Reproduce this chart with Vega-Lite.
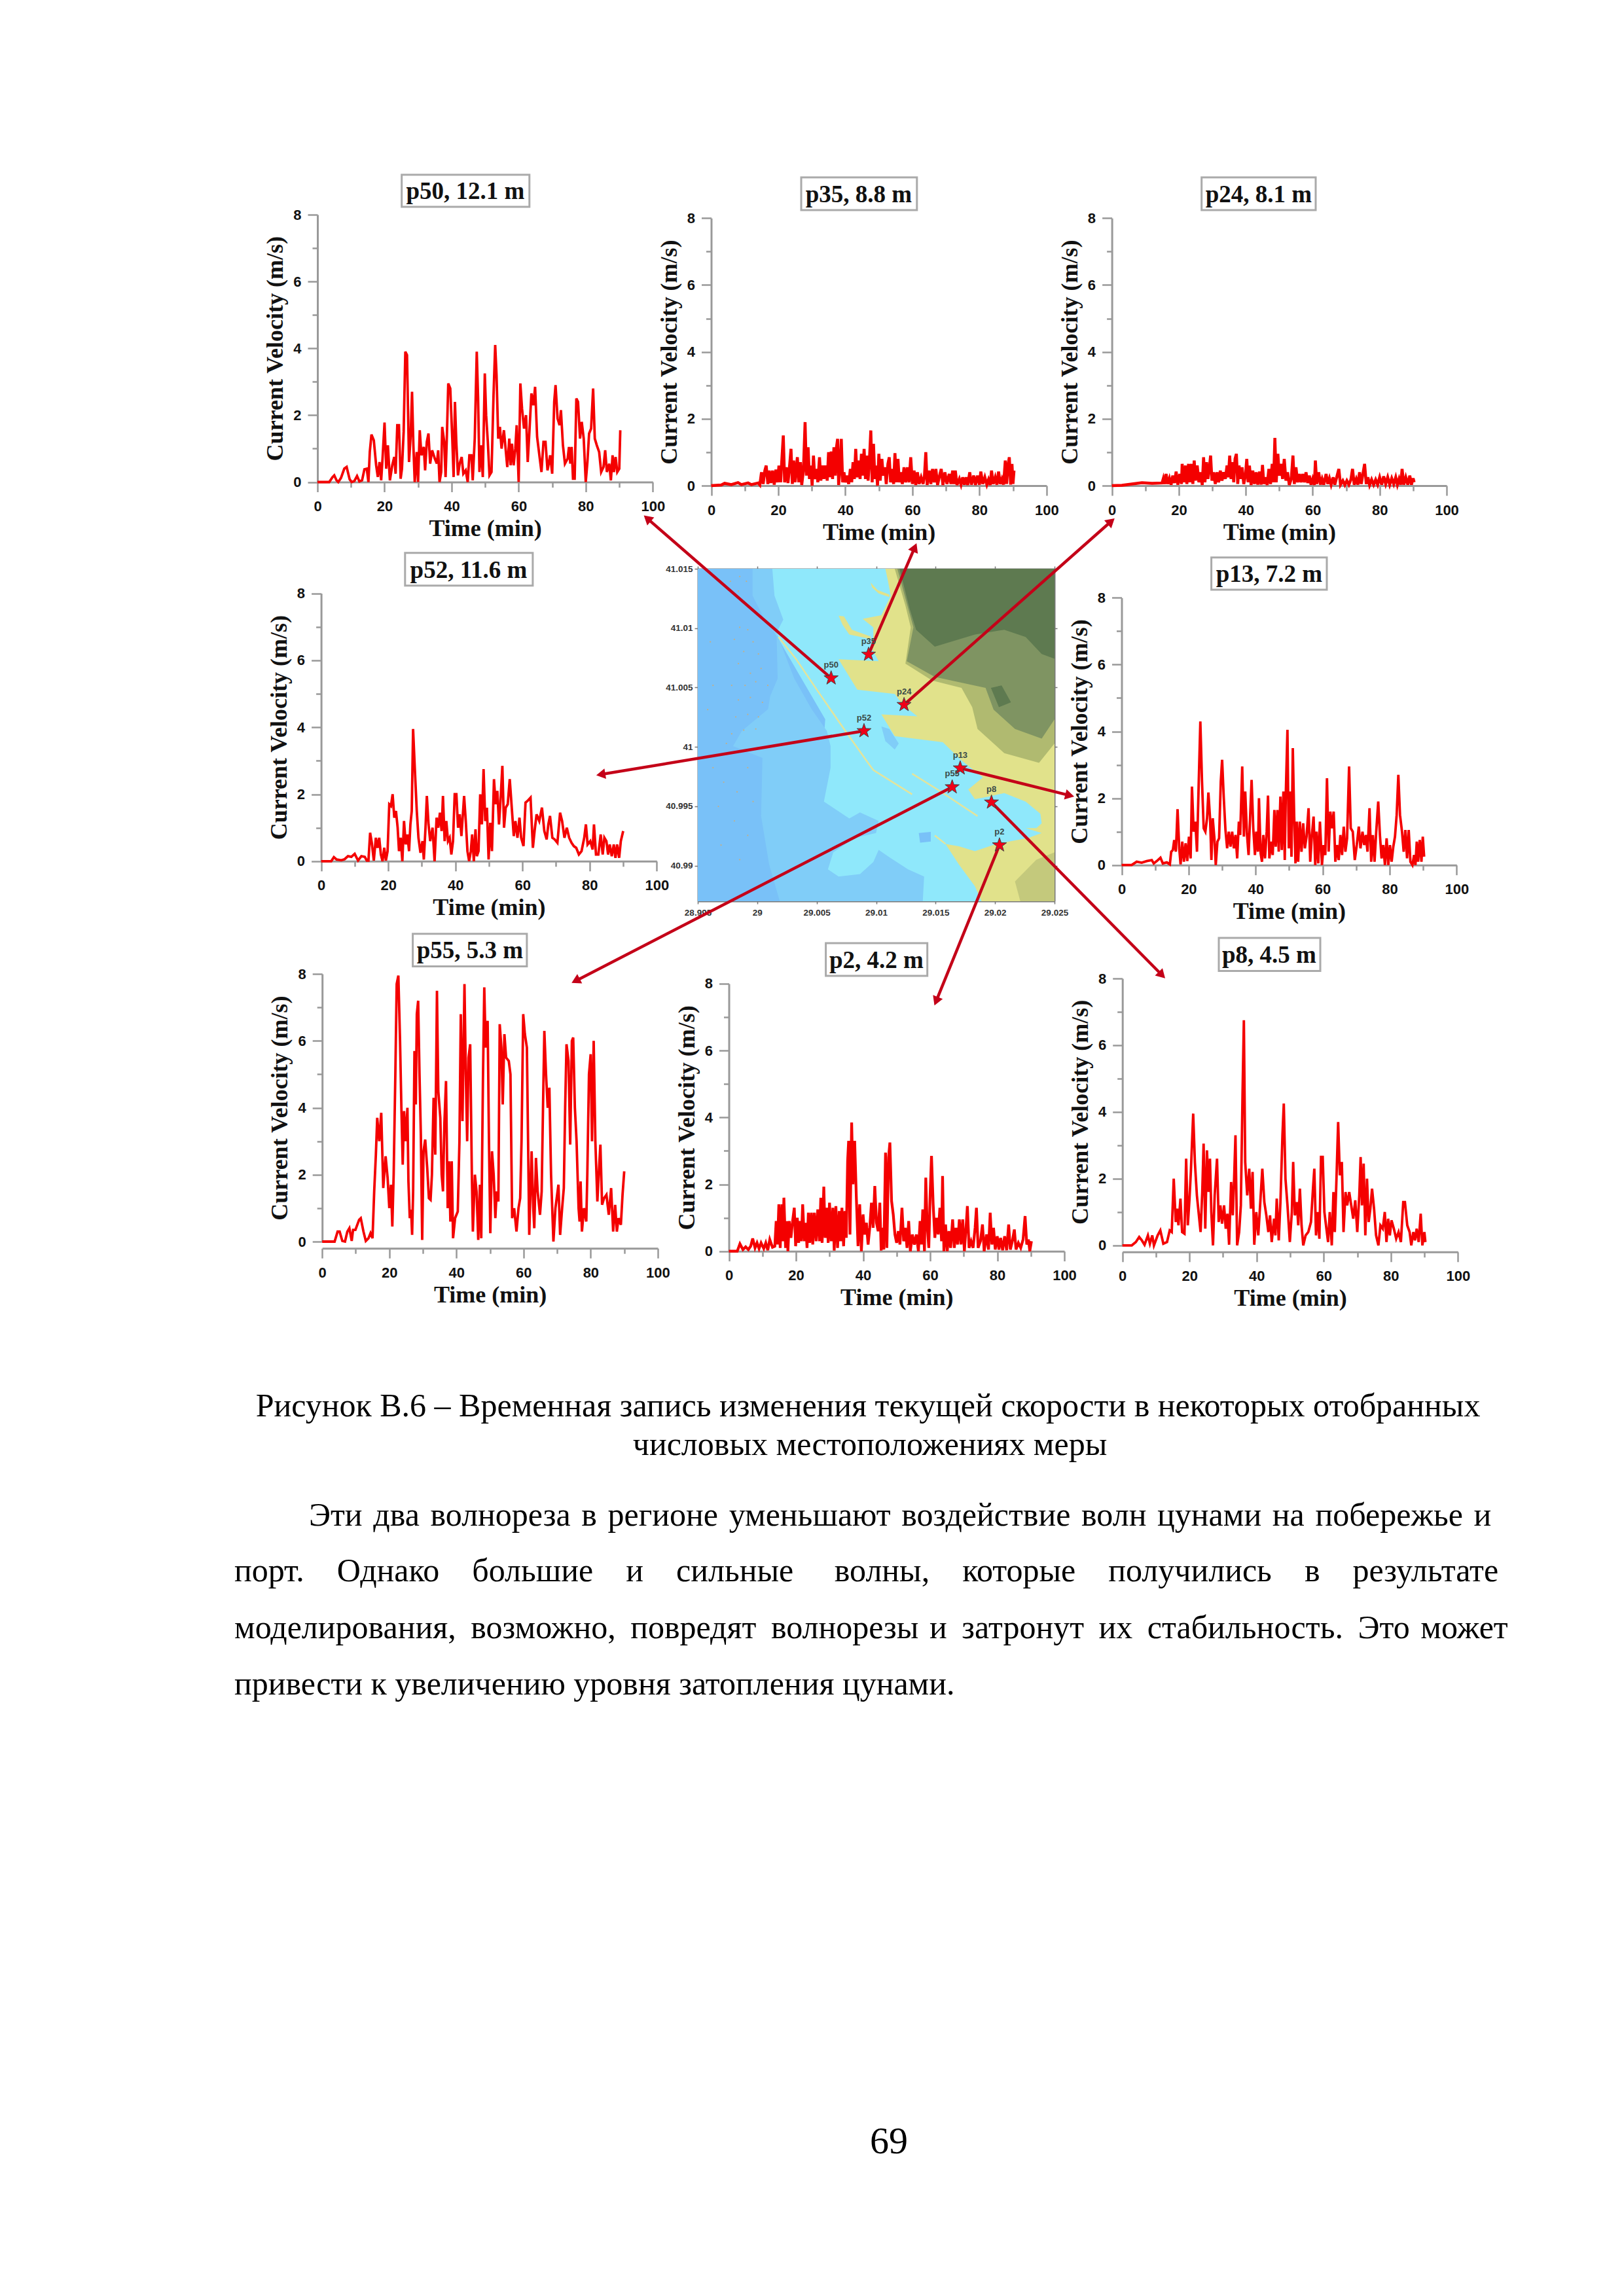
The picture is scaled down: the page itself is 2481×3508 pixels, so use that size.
{"$schema":"https://vega.github.io/schema/vega-lite/v6.json","width":2481,"height":3508,"padding":0,"autosize":{"type":"fit","contains":"padding"},"background":"white","data":{"values":[{"page":69}]},
"config":{"view":{"stroke":null},"axis":{"grid":false,"domainColor":"#999","tickColor":"#999","domainWidth":3,"tickWidth":2.5,"tickSize":15,"labelFont":"Liberation Sans","labelFontWeight":"bold","labelFontSize":22,"labelColor":"#111","labelPadding":10,"titleFont":"Liberation Serif","titleFontWeight":"bold","titleFontSize":36,"titleColor":"#111","labelFlush":false,"labelOverlap":false},"axisX":{"labelPadding":12,"titlePadding":6},"axisY":{"titlePadding":8}},
"resolve":{"scale":{"x":"independent","y":"independent"},"axis":{"x":"independent","y":"independent"}},
"datasets":{
"p50":[{"t":0,"v":0},{"t":3.5,"v":0},{"t":4.5,"v":0.15},{"t":5,"v":0.2},{"t":5.7,"v":0.05},{"t":6.2,"v":0},{"t":7,"v":0.12},{"t":8,"v":0.4},{"t":8.7,"v":0.45},{"t":9.6,"v":0.08},{"t":10.2,"v":0},{"t":11,"v":0.03},{"t":11.8,"v":0.18},{"t":12.5,"v":0.02},{"t":13.3,"v":0.05},{"t":14,"v":0.38},{"t":14.7,"v":0.4},{"t":15.2,"v":0},{"t":15.6,"v":0.9},{"t":16.1,"v":1.42},{"t":16.8,"v":1.25},{"t":17.5,"v":0.5},{"t":18,"v":0.15},{"t":18.5,"v":0.6},{"t":19,"v":0.05},{"t":19.4,"v":0.7},{"t":20,"v":1.78},{"t":20.5,"v":0.4},{"t":21,"v":1.1},{"t":21.6,"v":0.05},{"t":22.3,"v":0.5},{"t":22.9,"v":0.75},{"t":23.3,"v":0.25},{"t":23.8,"v":1.7},{"t":24.3,"v":1.7},{"t":24.8,"v":0.1},{"t":25.2,"v":0.4},{"t":25.7,"v":1.5},{"t":26.2,"v":3.9},{"t":26.7,"v":3.8},{"t":27.3,"v":0.6},{"t":27.8,"v":1.4},{"t":28.2,"v":2.7},{"t":28.6,"v":1.1},{"t":29,"v":0},{"t":29.6,"v":0.9},{"t":30,"v":0},{"t":30.5,"v":1.55},{"t":31,"v":0.8},{"t":31.7,"v":1.05},{"t":32.1,"v":0.35},{"t":32.6,"v":1.2},{"t":33.1,"v":1.45},{"t":33.6,"v":0.55},{"t":34.2,"v":0.95},{"t":35,"v":0.7},{"t":35.6,"v":0.55},{"t":36,"v":0.95},{"t":36.4,"v":0},{"t":36.9,"v":0.3},{"t":37.2,"v":1.65},{"t":37.8,"v":1.2},{"t":38.2,"v":0.15},{"t":38.6,"v":1.4},{"t":39,"v":2.95},{"t":39.6,"v":2.8},{"t":40.2,"v":1.3},{"t":40.6,"v":0.15},{"t":41,"v":2.4},{"t":41.4,"v":1.2},{"t":41.9,"v":0.2},{"t":42.4,"v":0.55},{"t":43,"v":0.75},{"t":43.5,"v":0.25},{"t":44.2,"v":0.35},{"t":44.8,"v":0},{"t":45.3,"v":0.8},{"t":45.9,"v":0.8},{"t":46.3,"v":0.05},{"t":46.9,"v":1.3},{"t":47.5,"v":3.9},{"t":47.9,"v":2.5},{"t":48.3,"v":0.3},{"t":48.8,"v":1.1},{"t":49.3,"v":0.15},{"t":49.9,"v":3.25},{"t":50.3,"v":2},{"t":50.8,"v":1.2},{"t":51.3,"v":0.2},{"t":51.9,"v":0.3},{"t":52.5,"v":2.6},{"t":53,"v":4.1},{"t":53.4,"v":3.2},{"t":53.9,"v":1.3},{"t":54.4,"v":1.65},{"t":54.9,"v":1},{"t":55.6,"v":1.55},{"t":56.1,"v":1},{"t":56.6,"v":0.45},{"t":57.2,"v":1.3},{"t":57.6,"v":0.5},{"t":58,"v":1.15},{"t":58.5,"v":0.5},{"t":59,"v":1},{"t":59.4,"v":1.7},{"t":60,"v":0},{"t":60.5,"v":2.95},{"t":61,"v":2.2},{"t":61.6,"v":1.6},{"t":62.2,"v":2},{"t":62.7,"v":0.6},{"t":63.2,"v":1.5},{"t":63.8,"v":2.65},{"t":64.4,"v":2.3},{"t":64.9,"v":2.85},{"t":65.5,"v":1.35},{"t":66.3,"v":0.7},{"t":66.8,"v":0.3},{"t":67.4,"v":1.2},{"t":68,"v":1.2},{"t":68.6,"v":0.35},{"t":69.4,"v":0.8},{"t":70,"v":0.25},{"t":70.6,"v":2.4},{"t":71,"v":2.9},{"t":71.6,"v":1.9},{"t":72.2,"v":1.7},{"t":72.6,"v":2.15},{"t":73.2,"v":1.1},{"t":73.8,"v":0.55},{"t":74.6,"v":0.7},{"t":75,"v":1.05},{"t":75.4,"v":0.55},{"t":75.8,"v":1.05},{"t":76.2,"v":0.1},{"t":76.7,"v":0.1},{"t":77.2,"v":2.5},{"t":77.7,"v":2.4},{"t":78.3,"v":1.3},{"t":78.8,"v":1.8},{"t":79.4,"v":1.3},{"t":80,"v":0},{"t":80.5,"v":0.6},{"t":81,"v":1.45},{"t":81.6,"v":1.6},{"t":82.2,"v":2.8},{"t":82.7,"v":1.3},{"t":83.3,"v":1.1},{"t":84,"v":0.9},{"t":84.6,"v":0.3},{"t":85.3,"v":0.45},{"t":85.8,"v":0.95},{"t":86.3,"v":0.3},{"t":87,"v":0.55},{"t":87.5,"v":0.05},{"t":88,"v":0.8},{"t":88.4,"v":0.3},{"t":88.9,"v":0.75},{"t":89.4,"v":0.3},{"t":90,"v":0.4},{"t":90.3,"v":1.55}],
"p35":[{"t":0,"v":0},{"t":3,"v":0.02},{"t":4,"v":0.07},{"t":6,"v":0.03},{"t":8,"v":0.09},{"t":9,"v":0.03},{"t":11,"v":0.08},{"t":12,"v":0.03},{"t":14,"v":0.08},{"t":14.5,"v":0.02},{"t":15,"v":0.4},{"t":15.5,"v":0.05},{"t":16,"v":0.45},{"t":16.4,"v":0.6},{"t":16.9,"v":0.05},{"t":17.3,"v":0.45},{"t":17.8,"v":0.08},{"t":18.3,"v":0.45},{"t":18.8,"v":0.03},{"t":19.3,"v":0.48},{"t":19.8,"v":0.1},{"t":20.2,"v":0.6},{"t":20.7,"v":0.1},{"t":21,"v":0.65},{"t":21.5,"v":1.5},{"t":21.9,"v":0.1},{"t":22.4,"v":0.55},{"t":22.9,"v":0.08},{"t":23.3,"v":0.5},{"t":23.8,"v":1.1},{"t":24.2,"v":0.05},{"t":24.6,"v":0.75},{"t":25,"v":0.1},{"t":25.4,"v":0.55},{"t":25.7,"v":0.85},{"t":26.1,"v":0.1},{"t":26.6,"v":0.7},{"t":27,"v":0.02},{"t":27.5,"v":0.45},{"t":28,"v":1.9},{"t":28.4,"v":0.3},{"t":28.9,"v":1.15},{"t":29.3,"v":0.2},{"t":29.7,"v":0.6},{"t":30.1,"v":0},{"t":30.5,"v":0.9},{"t":30.9,"v":0.2},{"t":31.4,"v":0.5},{"t":31.8,"v":0.1},{"t":32.3,"v":0.85},{"t":32.7,"v":0.15},{"t":33.2,"v":0.6},{"t":33.6,"v":0.2},{"t":34.1,"v":0.6},{"t":34.6,"v":0.15},{"t":35,"v":1},{"t":35.4,"v":0.25},{"t":35.8,"v":1.02},{"t":36.2,"v":0.2},{"t":36.6,"v":1.15},{"t":37,"v":0.3},{"t":37.3,"v":1.1},{"t":37.7,"v":1.4},{"t":38,"v":0.02},{"t":38.4,"v":0.5},{"t":38.8,"v":1.4},{"t":39.2,"v":0.1},{"t":39.6,"v":0.4},{"t":40,"v":0.1},{"t":40.5,"v":0.3},{"t":41,"v":0.05},{"t":41.5,"v":0.5},{"t":41.9,"v":0.1},{"t":42.3,"v":0.7},{"t":42.7,"v":0.2},{"t":43.1,"v":1.1},{"t":43.5,"v":0.25},{"t":44,"v":0.75},{"t":44.4,"v":0.2},{"t":44.8,"v":0.95},{"t":45.2,"v":0.3},{"t":45.6,"v":1.1},{"t":46,"v":0.2},{"t":46.4,"v":0.9},{"t":46.8,"v":0.15},{"t":47.2,"v":0.8},{"t":47.6,"v":1.65},{"t":48,"v":0.1},{"t":48.4,"v":1.25},{"t":48.8,"v":0.2},{"t":49.2,"v":0.6},{"t":49.6,"v":0},{"t":50,"v":0.95},{"t":50.4,"v":0.15},{"t":50.9,"v":0.8},{"t":51.3,"v":0.3},{"t":51.8,"v":0.55},{"t":52.2,"v":0.05},{"t":52.7,"v":0.65},{"t":53.1,"v":0.85},{"t":53.5,"v":0.1},{"t":54,"v":0.5},{"t":54.4,"v":0.05},{"t":54.8,"v":0.97},{"t":55.2,"v":0.1},{"t":55.7,"v":0.8},{"t":56.1,"v":0.1},{"t":56.6,"v":0.4},{"t":57,"v":0.05},{"t":57.5,"v":0.55},{"t":58,"v":0.1},{"t":58.5,"v":0.55},{"t":59,"v":0.1},{"t":59.5,"v":0.85},{"t":60,"v":0.05},{"t":60.5,"v":0.45},{"t":61,"v":0.02},{"t":61.5,"v":0.4},{"t":62,"v":0.05},{"t":62.6,"v":0.25},{"t":63.2,"v":0.05},{"t":63.6,"v":0.3},{"t":64,"v":1},{"t":64.4,"v":0.02},{"t":65,"v":0.45},{"t":65.5,"v":0.05},{"t":66,"v":0.5},{"t":66.5,"v":0.1},{"t":67,"v":0.5},{"t":67.5,"v":0.02},{"t":68.1,"v":0.3},{"t":68.6,"v":0.5},{"t":69.1,"v":0.02},{"t":69.7,"v":0.4},{"t":70.3,"v":0.05},{"t":71,"v":0.35},{"t":71.5,"v":0.05},{"t":72,"v":0.45},{"t":72.4,"v":0.05},{"t":72.8,"v":0.45},{"t":73.3,"v":0.02},{"t":74,"v":0.2},{"t":74.5,"v":0.03},{"t":75,"v":0.25},{"t":75.5,"v":0.03},{"t":76,"v":0.25},{"t":76.5,"v":0.02},{"t":77.1,"v":0.4},{"t":77.6,"v":0.03},{"t":78.3,"v":0.3},{"t":78.8,"v":0.02},{"t":79.4,"v":0.3},{"t":80,"v":0.03},{"t":80.4,"v":0.42},{"t":81,"v":0.05},{"t":81.6,"v":0.25},{"t":82.2,"v":0.03},{"t":82.7,"v":0.18},{"t":83.2,"v":0.02},{"t":83.6,"v":0.45},{"t":84.1,"v":0.05},{"t":84.7,"v":0.25},{"t":85.2,"v":0.03},{"t":85.7,"v":0.42},{"t":86.2,"v":0.05},{"t":86.7,"v":0.2},{"t":87.2,"v":0.03},{"t":87.7,"v":0.75},{"t":88.1,"v":0.05},{"t":88.5,"v":0.6},{"t":88.9,"v":0.85},{"t":89.3,"v":0.03},{"t":89.7,"v":0.65},{"t":90,"v":0.05},{"t":90.3,"v":0.45}],
"p24":[{"t":0,"v":0},{"t":3,"v":0.01},{"t":6,"v":0.05},{"t":9,"v":0.09},{"t":12,"v":0.07},{"t":15,"v":0.08},{"t":15.4,"v":0.22},{"t":15.8,"v":0.05},{"t":16.2,"v":0.35},{"t":16.7,"v":0.05},{"t":17.2,"v":0.22},{"t":17.7,"v":0.03},{"t":18.2,"v":0.3},{"t":18.7,"v":0.08},{"t":19.2,"v":0.42},{"t":19.7,"v":0.03},{"t":20.3,"v":0.35},{"t":20.8,"v":0.05},{"t":21,"v":0.65},{"t":21.5,"v":0.1},{"t":22,"v":0.6},{"t":22.4,"v":0.05},{"t":22.9,"v":0.65},{"t":23.3,"v":0.1},{"t":23.8,"v":0.65},{"t":24.2,"v":0.05},{"t":24.6,"v":0.75},{"t":25,"v":0.15},{"t":25.5,"v":0.6},{"t":26,"v":0.1},{"t":26.5,"v":0.4},{"t":27,"v":0.02},{"t":27.4,"v":0.85},{"t":27.8,"v":0.1},{"t":28.3,"v":0.7},{"t":28.7,"v":0.2},{"t":29.1,"v":0.5},{"t":29.5,"v":0.9},{"t":29.9,"v":0.15},{"t":30.4,"v":0.4},{"t":30.9,"v":0.05},{"t":31.4,"v":0.4},{"t":31.9,"v":0.1},{"t":32.4,"v":0.45},{"t":32.9,"v":0.15},{"t":33.4,"v":0.4},{"t":33.9,"v":0.2},{"t":34.4,"v":0.6},{"t":34.8,"v":0.25},{"t":35.2,"v":0.9},{"t":35.6,"v":0.2},{"t":36,"v":0.7},{"t":36.4,"v":0.1},{"t":36.8,"v":0.8},{"t":37.2,"v":0.95},{"t":37.6,"v":0.05},{"t":38,"v":0.6},{"t":38.4,"v":0.2},{"t":38.9,"v":0.55},{"t":39.4,"v":0.05},{"t":39.9,"v":0.3},{"t":40.3,"v":0.8},{"t":40.7,"v":0.1},{"t":41.1,"v":0.6},{"t":41.6,"v":0.02},{"t":42.1,"v":0.45},{"t":42.6,"v":0.05},{"t":43.1,"v":0.4},{"t":43.6,"v":0.03},{"t":44.1,"v":0.42},{"t":44.6,"v":0.03},{"t":45,"v":0.62},{"t":45.4,"v":0.05},{"t":45.9,"v":0.25},{"t":46.4,"v":0.02},{"t":46.9,"v":0.5},{"t":47.4,"v":0.05},{"t":47.9,"v":0.65},{"t":48.3,"v":0.1},{"t":48.7,"v":1.43},{"t":49.1,"v":0.1},{"t":49.6,"v":0.95},{"t":50,"v":0.3},{"t":50.5,"v":0.65},{"t":51,"v":0.2},{"t":51.5,"v":0.8},{"t":52,"v":0.15},{"t":52.5,"v":0.4},{"t":53,"v":0.02},{"t":53.6,"v":0.2},{"t":54.1,"v":0.9},{"t":54.5,"v":0.05},{"t":55,"v":0.55},{"t":55.5,"v":0.1},{"t":56,"v":0.35},{"t":56.5,"v":0.1},{"t":57,"v":0.35},{"t":57.5,"v":0.1},{"t":58,"v":0.4},{"t":58.5,"v":0.08},{"t":59,"v":0.3},{"t":59.5,"v":0.03},{"t":60,"v":0.2},{"t":60.5,"v":0.02},{"t":60.8,"v":0.75},{"t":61.2,"v":0.05},{"t":61.8,"v":0.4},{"t":62.3,"v":0.03},{"t":62.8,"v":0.2},{"t":63.3,"v":0.03},{"t":64,"v":0.35},{"t":64.5,"v":0.05},{"t":65,"v":0.22},{"t":65.5,"v":0.03},{"t":66.1,"v":0.25},{"t":66.6,"v":0.03},{"t":67.3,"v":0.3},{"t":67.8,"v":0.5},{"t":68.3,"v":0.03},{"t":69,"v":0.15},{"t":69.6,"v":0.02},{"t":70.2,"v":0.15},{"t":70.8,"v":0.03},{"t":71.4,"v":0.18},{"t":71.9,"v":0.5},{"t":72.4,"v":0.03},{"t":73,"v":0.2},{"t":73.5,"v":0.03},{"t":74,"v":0.4},{"t":74.5,"v":0.05},{"t":75,"v":0.35},{"t":75.5,"v":0.65},{"t":76,"v":0.05},{"t":76.5,"v":0.25},{"t":77,"v":0.02},{"t":77.6,"v":0.18},{"t":78.2,"v":0.03},{"t":78.8,"v":0.18},{"t":79.4,"v":0.03},{"t":80,"v":0.25},{"t":80.6,"v":0.03},{"t":81.2,"v":0.28},{"t":81.8,"v":0.05},{"t":82.4,"v":0.25},{"t":83,"v":0.03},{"t":83.6,"v":0.22},{"t":84.2,"v":0.05},{"t":84.8,"v":0.25},{"t":85.3,"v":0.03},{"t":85.8,"v":0.2},{"t":86.3,"v":0.03},{"t":86.7,"v":0.5},{"t":87.2,"v":0.03},{"t":87.8,"v":0.25},{"t":88.4,"v":0.03},{"t":89,"v":0.3},{"t":89.5,"v":0.03},{"t":90,"v":0.22},{"t":90.3,"v":0.1}],
"p52":[{"t":0,"v":0},{"t":3,"v":0},{"t":3.8,"v":0.12},{"t":4.6,"v":0.05},{"t":6,"v":0.03},{"t":7,"v":0.06},{"t":8,"v":0.15},{"t":9,"v":0.13},{"t":10,"v":0.22},{"t":11,"v":0.02},{"t":12,"v":0.15},{"t":13,"v":0.13},{"t":13.6,"v":0.02},{"t":14.1,"v":0.02},{"t":14.6,"v":0.85},{"t":15.1,"v":0.55},{"t":15.7,"v":0.02},{"t":16.3,"v":0.7},{"t":16.8,"v":0.4},{"t":17.3,"v":0.7},{"t":17.8,"v":0.2},{"t":18.3,"v":0},{"t":18.8,"v":0.4},{"t":19.3,"v":0.02},{"t":19.8,"v":0.3},{"t":20.3,"v":1.7},{"t":20.8,"v":1.65},{"t":21.3,"v":2},{"t":21.8,"v":1.3},{"t":22.3,"v":1.5},{"t":22.8,"v":1},{"t":23.2,"v":0.3},{"t":23.7,"v":0.7},{"t":24.2,"v":0},{"t":24.7,"v":1.2},{"t":25.2,"v":0.5},{"t":25.7,"v":0.8},{"t":26.2,"v":0.3},{"t":26.6,"v":1.1},{"t":27,"v":1.5},{"t":27.4,"v":3.95},{"t":27.9,"v":2.8},{"t":28.5,"v":1.5},{"t":29,"v":0.7},{"t":29.6,"v":0.25},{"t":30.2,"v":0.6},{"t":30.6,"v":0.05},{"t":31.1,"v":1},{"t":31.5,"v":1.95},{"t":32,"v":1.1},{"t":32.5,"v":0.6},{"t":33.2,"v":1},{"t":33.8,"v":0},{"t":34.4,"v":1.3},{"t":34.9,"v":1},{"t":35.4,"v":1.45},{"t":35.9,"v":0.9},{"t":36.3,"v":1.95},{"t":36.8,"v":0.6},{"t":37.3,"v":1.2},{"t":37.8,"v":0.6},{"t":38.3,"v":0.7},{"t":38.8,"v":0.2},{"t":39.3,"v":0.6},{"t":39.8,"v":2},{"t":40.3,"v":2},{"t":40.8,"v":1},{"t":41.3,"v":1.4},{"t":41.8,"v":0.75},{"t":42.6,"v":1.95},{"t":43.1,"v":1.2},{"t":43.6,"v":0.3},{"t":44.1,"v":0},{"t":44.6,"v":0.3},{"t":45,"v":0.8},{"t":45.5,"v":0},{"t":46,"v":0.95},{"t":46.4,"v":0.15},{"t":46.9,"v":0.3},{"t":47.4,"v":2},{"t":47.9,"v":1.1},{"t":48.4,"v":2.75},{"t":48.9,"v":1.2},{"t":49.4,"v":1.6},{"t":49.9,"v":0.05},{"t":50.4,"v":1.15},{"t":50.9,"v":0.3},{"t":51.5,"v":2.45},{"t":52,"v":1.7},{"t":52.5,"v":2.1},{"t":53,"v":1.1},{"t":53.5,"v":1.9},{"t":54,"v":2.85},{"t":54.5,"v":1},{"t":55,"v":1.6},{"t":55.6,"v":1.7},{"t":56.2,"v":2.45},{"t":56.8,"v":1.6},{"t":57.4,"v":0.75},{"t":57.9,"v":1.2},{"t":58.5,"v":0.7},{"t":59.1,"v":1.3},{"t":59.6,"v":0.7},{"t":60.3,"v":0.45},{"t":60.9,"v":1.75},{"t":61.5,"v":1.8},{"t":62.4,"v":1.9},{"t":63.1,"v":0.4},{"t":63.6,"v":0.9},{"t":64.2,"v":1.4},{"t":65,"v":1.2},{"t":65.8,"v":1.6},{"t":66.5,"v":0.9},{"t":67.2,"v":0.65},{"t":67.7,"v":1.1},{"t":68.2,"v":1.35},{"t":68.9,"v":0.7},{"t":69.6,"v":0.65},{"t":70.4,"v":0.55},{"t":71.2,"v":1.45},{"t":71.8,"v":1.2},{"t":72.5,"v":0.7},{"t":73.2,"v":1},{"t":73.9,"v":0.7},{"t":74.6,"v":0.55},{"t":75.3,"v":0.45},{"t":76,"v":0.4},{"t":76.8,"v":0.2},{"t":77.6,"v":0.3},{"t":78.4,"v":0.7},{"t":78.9,"v":1.1},{"t":79.4,"v":0.5},{"t":80.2,"v":0.6},{"t":80.9,"v":0.35},{"t":81.3,"v":1.1},{"t":81.9,"v":0.2},{"t":82.6,"v":0.2},{"t":83.3,"v":0.8},{"t":83.9,"v":0.2},{"t":84.4,"v":0.7},{"t":85,"v":0.6},{"t":85.5,"v":0.2},{"t":86,"v":0.5},{"t":86.6,"v":0.15},{"t":87.2,"v":0.5},{"t":87.7,"v":0.1},{"t":88.2,"v":0.5},{"t":88.8,"v":0.1},{"t":89.3,"v":0.6},{"t":90,"v":0.9}],
"p13":[{"t":0,"v":0},{"t":3,"v":0},{"t":4.5,"v":0.1},{"t":6,"v":0.07},{"t":7.5,"v":0.12},{"t":9,"v":0.15},{"t":9.6,"v":0.05},{"t":10.5,"v":0.12},{"t":11.6,"v":0.22},{"t":12.3,"v":0.05},{"t":13.5,"v":0.08},{"t":14.4,"v":0.02},{"t":14.8,"v":0.4},{"t":15.3,"v":0.45},{"t":15.7,"v":0.75},{"t":16.2,"v":0.4},{"t":16.7,"v":1.67},{"t":17.2,"v":0.5},{"t":17.6,"v":0.02},{"t":18.1,"v":0.7},{"t":18.6,"v":0.1},{"t":19.1,"v":0.65},{"t":19.6,"v":0.12},{"t":20.1,"v":0.85},{"t":20.6,"v":0.2},{"t":21,"v":2.35},{"t":21.5,"v":1},{"t":22,"v":1.3},{"t":22.5,"v":0.4},{"t":23,"v":2.4},{"t":23.5,"v":4.3},{"t":24,"v":2.5},{"t":24.5,"v":1.1},{"t":25,"v":1},{"t":25.5,"v":1.4},{"t":25.9,"v":2.17},{"t":26.4,"v":1.4},{"t":26.8,"v":0.15},{"t":27.2,"v":1.4},{"t":27.7,"v":0.8},{"t":28.1,"v":0},{"t":28.6,"v":0.7},{"t":29.1,"v":0.8},{"t":29.6,"v":2.5},{"t":30,"v":3.15},{"t":30.5,"v":2},{"t":31,"v":1.05},{"t":31.5,"v":0.5},{"t":32,"v":1},{"t":32.5,"v":0.55},{"t":33,"v":1},{"t":33.5,"v":0.5},{"t":34,"v":0.9},{"t":34.5,"v":0.2},{"t":35,"v":1.3},{"t":35.4,"v":0.9},{"t":36,"v":2.95},{"t":36.5,"v":0.85},{"t":36.9,"v":2.2},{"t":37.4,"v":0.95},{"t":37.9,"v":0.3},{"t":38.3,"v":1.3},{"t":38.8,"v":2.55},{"t":39.3,"v":1.1},{"t":39.8,"v":0.3},{"t":40.2,"v":1},{"t":40.7,"v":0.4},{"t":41,"v":2},{"t":41.5,"v":0.35},{"t":41.9,"v":0.1},{"t":42.3,"v":0.9},{"t":42.8,"v":0.2},{"t":43.3,"v":1},{"t":43.7,"v":2.08},{"t":44.1,"v":0.2},{"t":44.6,"v":0.7},{"t":45.1,"v":0.3},{"t":45.6,"v":1.65},{"t":46,"v":0.55},{"t":46.5,"v":1.65},{"t":46.9,"v":0.4},{"t":47.4,"v":2.05},{"t":47.8,"v":0.45},{"t":48.3,"v":2.2},{"t":48.7,"v":0.15},{"t":49,"v":2.1},{"t":49.5,"v":4.05},{"t":49.9,"v":0.5},{"t":50.3,"v":2.2},{"t":50.7,"v":0.25},{"t":51.1,"v":3.5},{"t":51.5,"v":1.5},{"t":51.9,"v":0.05},{"t":52.3,"v":1.3},{"t":52.7,"v":0.1},{"t":53.2,"v":1.3},{"t":53.7,"v":0.4},{"t":54.2,"v":1.25},{"t":54.7,"v":0.5},{"t":55.2,"v":0.85},{"t":55.8,"v":1.7},{"t":56.3,"v":0.1},{"t":56.8,"v":0.9},{"t":57.3,"v":1.45},{"t":57.8,"v":0},{"t":58.2,"v":1},{"t":58.7,"v":0.05},{"t":59.2,"v":1.3},{"t":59.8,"v":0},{"t":60.3,"v":0.6},{"t":60.8,"v":0.3},{"t":61.3,"v":2.6},{"t":61.8,"v":0.4},{"t":62.3,"v":1.6},{"t":62.8,"v":1.1},{"t":63.3,"v":1.6},{"t":63.8,"v":0.1},{"t":64.3,"v":0.6},{"t":64.8,"v":0.15},{"t":65.3,"v":0.9},{"t":65.8,"v":0.3},{"t":66.3,"v":1.15},{"t":66.8,"v":0.4},{"t":67.3,"v":0.8},{"t":67.9,"v":2.95},{"t":68.4,"v":1.1},{"t":69,"v":1},{"t":69.6,"v":0.15},{"t":70.2,"v":0.6},{"t":70.8,"v":1.15},{"t":71.3,"v":0.5},{"t":71.9,"v":1},{"t":72.4,"v":0.6},{"t":72.9,"v":0.9},{"t":73.4,"v":0.4},{"t":74,"v":1.7},{"t":74.5,"v":0.1},{"t":75,"v":0.9},{"t":75.5,"v":0.1},{"t":76,"v":1},{"t":76.6,"v":1.9},{"t":77.1,"v":0.9},{"t":77.6,"v":0.2},{"t":78.1,"v":0.6},{"t":78.6,"v":0},{"t":79.1,"v":0.8},{"t":79.6,"v":0},{"t":80.1,"v":0.6},{"t":80.6,"v":0.1},{"t":81.1,"v":0.55},{"t":81.6,"v":0.85},{"t":82.1,"v":1.5},{"t":82.6,"v":2.7},{"t":83.1,"v":1.5},{"t":83.7,"v":1},{"t":84.2,"v":0.4},{"t":84.7,"v":1.05},{"t":85.2,"v":0.2},{"t":85.7,"v":1.05},{"t":86.2,"v":0.1},{"t":86.8,"v":0},{"t":87.3,"v":0.3},{"t":87.7,"v":0},{"t":88.1,"v":0.7},{"t":88.5,"v":0.1},{"t":89,"v":0.75},{"t":89.5,"v":0.1},{"t":89.9,"v":0.85},{"t":90.3,"v":0.25}],
"p55":[{"t":0,"v":0},{"t":3.7,"v":0},{"t":4.6,"v":0.3},{"t":5.2,"v":0.3},{"t":6,"v":0.02},{"t":6.8,"v":0},{"t":7.5,"v":0.3},{"t":8.1,"v":0.4},{"t":8.8,"v":0.02},{"t":9.2,"v":0.35},{"t":9.9,"v":0.35},{"t":11,"v":0.65},{"t":11.5,"v":0.7},{"t":12.3,"v":0.3},{"t":13,"v":0.02},{"t":13.8,"v":0.1},{"t":14.4,"v":0.25},{"t":15,"v":0.1},{"t":15.5,"v":1.5},{"t":16,"v":2.6},{"t":16.4,"v":3.7},{"t":17,"v":3},{"t":17.6,"v":3.85},{"t":18.2,"v":1.6},{"t":18.9,"v":2.55},{"t":19.5,"v":1.9},{"t":20,"v":1},{"t":20.5,"v":1.7},{"t":20.9,"v":0.45},{"t":21.3,"v":2},{"t":21.8,"v":5},{"t":22.2,"v":7.7},{"t":22.7,"v":7.95},{"t":23.2,"v":6},{"t":23.6,"v":4},{"t":24,"v":2.3},{"t":24.4,"v":3.9},{"t":24.9,"v":3},{"t":25.4,"v":4},{"t":25.7,"v":1.8},{"t":26.1,"v":0.7},{"t":26.5,"v":0.95},{"t":26.8,"v":0.2},{"t":27.1,"v":1.5},{"t":27.5,"v":5.7},{"t":27.9,"v":4.1},{"t":28.2,"v":6.8},{"t":28.6,"v":7.2},{"t":29,"v":5},{"t":29.4,"v":3.2},{"t":29.8,"v":0.05},{"t":30.2,"v":2.7},{"t":30.7,"v":3.05},{"t":31.3,"v":2.2},{"t":31.8,"v":1.3},{"t":32.3,"v":1.25},{"t":32.7,"v":2},{"t":33.2,"v":4.3},{"t":33.7,"v":2.6},{"t":34.2,"v":7.5},{"t":34.6,"v":4.5},{"t":35.2,"v":3.7},{"t":35.6,"v":2},{"t":36,"v":1.5},{"t":36.4,"v":3.5},{"t":36.9,"v":4.8},{"t":37.4,"v":1},{"t":37.8,"v":2.4},{"t":38.2,"v":0.6},{"t":38.6,"v":2.4},{"t":39,"v":0.1},{"t":39.6,"v":0.7},{"t":40.4,"v":0.9},{"t":40.9,"v":3},{"t":41.3,"v":6.8},{"t":41.8,"v":3.6},{"t":42.4,"v":7.7},{"t":42.8,"v":5},{"t":43.2,"v":3},{"t":43.6,"v":5.5},{"t":44.1,"v":5.9},{"t":44.6,"v":2},{"t":44.9,"v":0.3},{"t":45.5,"v":2},{"t":46,"v":1.5},{"t":46.5,"v":0.05},{"t":47,"v":1.7},{"t":47.4,"v":0.1},{"t":47.9,"v":4.8},{"t":48.3,"v":7.6},{"t":48.7,"v":5.8},{"t":49.3,"v":6.6},{"t":49.7,"v":3},{"t":50.1,"v":0.25},{"t":50.6,"v":2.7},{"t":51.1,"v":2},{"t":51.6,"v":0.7},{"t":52,"v":1.5},{"t":52.5,"v":1.2},{"t":52.9,"v":6.5},{"t":53.4,"v":5.8},{"t":53.8,"v":4.1},{"t":54.3,"v":6.2},{"t":54.8,"v":5.5},{"t":55.6,"v":5.4},{"t":56.1,"v":5},{"t":56.6,"v":0.7},{"t":57.2,"v":1},{"t":57.9,"v":0.3},{"t":58.5,"v":1},{"t":59,"v":1.3},{"t":59.4,"v":3},{"t":59.9,"v":6.8},{"t":60.4,"v":6.2},{"t":61,"v":5.8},{"t":61.7,"v":0.2},{"t":62.4,"v":2.7},{"t":62.9,"v":1},{"t":63.2,"v":0.4},{"t":63.7,"v":2.5},{"t":64.2,"v":1.5},{"t":64.9,"v":0.8},{"t":65.4,"v":1.5},{"t":65.8,"v":4},{"t":66.2,"v":6.3},{"t":66.7,"v":5},{"t":67.2,"v":4},{"t":67.7,"v":4.6},{"t":68.2,"v":2},{"t":68.9,"v":0},{"t":69.5,"v":1},{"t":70.4,"v":1.7},{"t":70.9,"v":0.2},{"t":71.5,"v":1},{"t":72,"v":1.6},{"t":72.4,"v":4},{"t":72.8,"v":5.9},{"t":73.4,"v":5.4},{"t":73.9,"v":2.9},{"t":74.4,"v":6},{"t":74.8,"v":6.1},{"t":75.3,"v":4},{"t":75.8,"v":3},{"t":76.4,"v":1},{"t":76.7,"v":0.6},{"t":77,"v":1.8},{"t":77.4,"v":0.3},{"t":78,"v":1},{"t":78.7,"v":0.6},{"t":79,"v":2},{"t":79.5,"v":5},{"t":80,"v":5.6},{"t":80.4,"v":3},{"t":80.9,"v":6},{"t":81.4,"v":3},{"t":82,"v":1.2},{"t":82.4,"v":2},{"t":82.9,"v":2.9},{"t":83.4,"v":1.1},{"t":84,"v":1.3},{"t":84.7,"v":1.4},{"t":85.4,"v":0.8},{"t":86.1,"v":1.6},{"t":86.7,"v":0.3},{"t":87.3,"v":1.1},{"t":87.8,"v":0.3},{"t":88.3,"v":0.7},{"t":89,"v":0.5},{"t":89.5,"v":1.4},{"t":90,"v":2.1}],
"p2":[{"t":0,"v":0},{"t":2.5,"v":0},{"t":3.3,"v":0.22},{"t":4.2,"v":0.05},{"t":5,"v":0.13},{"t":5.8,"v":0.05},{"t":6.5,"v":0.15},{"t":7.1,"v":0.38},{"t":7.8,"v":0.1},{"t":8.4,"v":0.25},{"t":9,"v":0.08},{"t":9.6,"v":0.25},{"t":10.4,"v":0.08},{"t":11,"v":0.25},{"t":11.6,"v":0.03},{"t":12.2,"v":0.35},{"t":13,"v":0.12},{"t":13.7,"v":0.15},{"t":14.1,"v":0.9},{"t":14.5,"v":0.2},{"t":14.9,"v":1.4},{"t":15.3,"v":0.1},{"t":15.8,"v":1.4},{"t":16.1,"v":0.3},{"t":16.4,"v":1.6},{"t":16.9,"v":0.1},{"t":17.3,"v":0.9},{"t":17.6,"v":0},{"t":18,"v":0.9},{"t":18.5,"v":0.4},{"t":19,"v":0.9},{"t":19.5,"v":1.3},{"t":19.9,"v":0.15},{"t":20.4,"v":1},{"t":20.8,"v":0.25},{"t":21.2,"v":0.9},{"t":21.6,"v":0.3},{"t":22,"v":1.4},{"t":22.5,"v":0.3},{"t":22.9,"v":0.85},{"t":23.3,"v":0.1},{"t":23.7,"v":1.15},{"t":24.1,"v":0.25},{"t":24.6,"v":1.15},{"t":25,"v":0.2},{"t":25.5,"v":1.15},{"t":26,"v":0.3},{"t":26.5,"v":1.25},{"t":27,"v":0.3},{"t":27.4,"v":1.6},{"t":27.8,"v":0.25},{"t":28.3,"v":1.93},{"t":28.7,"v":0.4},{"t":29.2,"v":1.3},{"t":29.6,"v":0.25},{"t":30,"v":1.45},{"t":30.5,"v":0.3},{"t":31,"v":1.3},{"t":31.4,"v":0.02},{"t":31.9,"v":1.35},{"t":32.4,"v":0.1},{"t":32.9,"v":1.2},{"t":33.3,"v":0.3},{"t":33.7,"v":1.3},{"t":34.2,"v":0.15},{"t":34.6,"v":1.2},{"t":35,"v":0.4},{"t":35.4,"v":2.7},{"t":35.7,"v":3.3},{"t":36.1,"v":0.5},{"t":36.6,"v":3.85},{"t":37,"v":2},{"t":37.5,"v":3.3},{"t":38,"v":1.6},{"t":38.5,"v":0.15},{"t":39,"v":1.4},{"t":39.5,"v":0},{"t":40,"v":1.1},{"t":40.5,"v":0.5},{"t":41,"v":0.85},{"t":41.5,"v":0.2},{"t":42,"v":0.7},{"t":42.5,"v":1.45},{"t":43,"v":0.7},{"t":43.5,"v":1.95},{"t":44,"v":0.85},{"t":44.5,"v":0.6},{"t":45,"v":1.45},{"t":45.4,"v":0.02},{"t":45.8,"v":0.7},{"t":46.2,"v":0.05},{"t":46.7,"v":2.95},{"t":47.1,"v":0.1},{"t":47.6,"v":2.8},{"t":48,"v":3.25},{"t":48.5,"v":1.5},{"t":49,"v":1.1},{"t":49.5,"v":0.5},{"t":50,"v":0.25},{"t":50.5,"v":0.6},{"t":51,"v":0.2},{"t":51.6,"v":1.3},{"t":52.1,"v":0.3},{"t":52.6,"v":0.7},{"t":53.1,"v":0.1},{"t":53.6,"v":0.9},{"t":54.1,"v":0},{"t":54.7,"v":0.5},{"t":55.3,"v":0.2},{"t":55.9,"v":0.5},{"t":56.5,"v":0},{"t":57,"v":0.9},{"t":57.4,"v":0.2},{"t":57.8,"v":1.25},{"t":58.3,"v":0},{"t":58.7,"v":2.2},{"t":59.1,"v":0.8},{"t":59.6,"v":0.1},{"t":60,"v":1.7},{"t":60.4,"v":2.85},{"t":60.9,"v":1.4},{"t":61.4,"v":0.4},{"t":61.9,"v":1},{"t":62.4,"v":0.5},{"t":62.9,"v":1.3},{"t":63.4,"v":0.3},{"t":63.7,"v":2.25},{"t":64.1,"v":0},{"t":64.6,"v":0.8},{"t":65.1,"v":0},{"t":65.6,"v":0.6},{"t":66.1,"v":0.1},{"t":66.7,"v":0.95},{"t":67.2,"v":0.1},{"t":67.7,"v":0.7},{"t":68.2,"v":0.2},{"t":68.7,"v":0.95},{"t":69.2,"v":0.2},{"t":69.7,"v":0.95},{"t":70.2,"v":0},{"t":70.7,"v":0.7},{"t":71.1,"v":1.35},{"t":71.6,"v":0.1},{"t":72.2,"v":0.3},{"t":72.8,"v":0.1},{"t":73.4,"v":0.7},{"t":73.8,"v":1.3},{"t":74.3,"v":0.1},{"t":75,"v":0.3},{"t":75.6,"v":0.8},{"t":76.1,"v":0},{"t":76.8,"v":0.5},{"t":77.4,"v":0.05},{"t":77.9,"v":1.15},{"t":78.4,"v":0.2},{"t":78.9,"v":0.7},{"t":79.4,"v":0.05},{"t":80,"v":0.45},{"t":80.5,"v":0.05},{"t":81,"v":0.4},{"t":81.6,"v":0.03},{"t":82.2,"v":0.45},{"t":82.8,"v":0.03},{"t":83.4,"v":0.8},{"t":83.9,"v":0.05},{"t":84.5,"v":0.3},{"t":85.1,"v":0.65},{"t":85.6,"v":0.05},{"t":86.3,"v":0.25},{"t":87,"v":0.1},{"t":87.7,"v":0.35},{"t":88.3,"v":1.05},{"t":88.8,"v":0.2},{"t":89.3,"v":0.35},{"t":89.7,"v":0},{"t":90.2,"v":0.3}],
"p8":[{"t":0,"v":0},{"t":2.8,"v":0},{"t":4,"v":0.1},{"t":5,"v":0.25},{"t":5.8,"v":0.15},{"t":6.6,"v":0.02},{"t":7.6,"v":0.3},{"t":8.2,"v":0.05},{"t":8.9,"v":0.3},{"t":9.4,"v":0},{"t":10.5,"v":0.3},{"t":11.3,"v":0.45},{"t":12.2,"v":0.05},{"t":13.3,"v":0.1},{"t":14.1,"v":0.45},{"t":14.7,"v":0.4},{"t":15.3,"v":2},{"t":15.9,"v":0.7},{"t":16.3,"v":1.1},{"t":16.7,"v":0.6},{"t":17.3,"v":1.4},{"t":17.8,"v":0.4},{"t":18.5,"v":0.35},{"t":19,"v":2.6},{"t":19.5,"v":0.6},{"t":20,"v":1.4},{"t":20.4,"v":2.2},{"t":21.1,"v":3.95},{"t":21.6,"v":2.5},{"t":22.2,"v":1.5},{"t":22.6,"v":1.1},{"t":23.3,"v":0.4},{"t":23.8,"v":1.6},{"t":24.2,"v":3.05},{"t":24.7,"v":0.5},{"t":25.2,"v":2.85},{"t":25.7,"v":1.6},{"t":26.1,"v":2.6},{"t":26.5,"v":1},{"t":27,"v":0},{"t":27.5,"v":1.5},{"t":28.2,"v":2.6},{"t":28.7,"v":0.7},{"t":29.2,"v":1.2},{"t":29.7,"v":0.65},{"t":30.3,"v":1.2},{"t":30.8,"v":0.5},{"t":31.3,"v":0.95},{"t":31.8,"v":0.02},{"t":32.4,"v":1.9},{"t":32.9,"v":0.9},{"t":33.3,"v":2},{"t":33.7,"v":3.3},{"t":34.2,"v":0},{"t":34.8,"v":0.4},{"t":35.3,"v":1.2},{"t":35.8,"v":4.5},{"t":36.2,"v":6.75},{"t":36.6,"v":2.5},{"t":37.2,"v":1.5},{"t":37.8,"v":2.3},{"t":38.3,"v":1.1},{"t":38.8,"v":2.2},{"t":39.3,"v":0.02},{"t":39.9,"v":1},{"t":40.5,"v":0.3},{"t":41.1,"v":1.3},{"t":41.7,"v":2.3},{"t":42.3,"v":1.3},{"t":42.9,"v":0.9},{"t":43.5,"v":0.4},{"t":44,"v":0.9},{"t":44.5,"v":0.1},{"t":45.2,"v":0.8},{"t":45.6,"v":0.3},{"t":46,"v":1.4},{"t":46.6,"v":0.15},{"t":47.1,"v":1.3},{"t":47.7,"v":3.3},{"t":48.1,"v":4.25},{"t":48.6,"v":2},{"t":49.2,"v":1.2},{"t":49.9,"v":0.1},{"t":50.5,"v":1},{"t":50.9,"v":2.5},{"t":51.4,"v":0.9},{"t":52,"v":1.3},{"t":52.4,"v":0.6},{"t":52.9,"v":1.7},{"t":53.4,"v":0.6},{"t":53.9,"v":0},{"t":54.6,"v":0.3},{"t":55.4,"v":0.4},{"t":56.2,"v":0.7},{"t":56.8,"v":1.7},{"t":57.2,"v":2.3},{"t":57.7,"v":0.3},{"t":58.2,"v":1},{"t":58.7,"v":0.2},{"t":59.2,"v":2.65},{"t":59.7,"v":2.65},{"t":60.2,"v":1},{"t":60.8,"v":0.5},{"t":61.3,"v":0.1},{"t":61.8,"v":1},{"t":62.4,"v":0},{"t":62.9,"v":1.6},{"t":63.3,"v":0.4},{"t":63.8,"v":2},{"t":64.3,"v":3.7},{"t":64.8,"v":2.1},{"t":65.4,"v":2.5},{"t":65.9,"v":0.4},{"t":66.5,"v":1.6},{"t":67,"v":1.2},{"t":67.6,"v":1.6},{"t":68.2,"v":1.2},{"t":68.8,"v":0.8},{"t":69.4,"v":1.35},{"t":70,"v":0.4},{"t":70.6,"v":1.5},{"t":71,"v":2.65},{"t":71.4,"v":1.2},{"t":71.9,"v":2.45},{"t":72.4,"v":0.3},{"t":72.9,"v":2},{"t":73.4,"v":0.7},{"t":73.9,"v":1.1},{"t":74.4,"v":1.7},{"t":75,"v":1.1},{"t":75.6,"v":0.3},{"t":76.3,"v":0},{"t":76.9,"v":0.6},{"t":77.6,"v":0.5},{"t":78.2,"v":1},{"t":78.7,"v":0.1},{"t":79.2,"v":0.8},{"t":79.7,"v":0.3},{"t":80.2,"v":0.75},{"t":80.9,"v":0.5},{"t":81.6,"v":0.2},{"t":82.3,"v":0.4},{"t":83,"v":0.1},{"t":83.7,"v":1.3},{"t":84.2,"v":1.3},{"t":84.9,"v":0.6},{"t":85.6,"v":0.4},{"t":86.1,"v":0},{"t":86.7,"v":0.4},{"t":87.2,"v":0.15},{"t":87.7,"v":0.5},{"t":88.3,"v":0.1},{"t":88.9,"v":0.95},{"t":89.4,"v":0},{"t":90,"v":0.4},{"t":90.3,"v":0.1}],
"map":[{"r":"deep","gx":113,"gy":78},{"r":"deep","gx":1448,"gy":78},{"r":"deep","gx":1448,"gy":1452},{"r":"deep","gx":113,"gy":1452},
{"r":"cyan","gx":380,"gy":78},{"r":"cyan","gx":1448,"gy":78},{"r":"cyan","gx":1448,"gy":1452},{"r":"cyan","gx":950,"gy":1452},{"r":"cyan","gx":590,"gy":1370},{"r":"cyan","gx":570,"gy":1000},{"r":"cyan","gx":590,"gy":700},{"r":"cyan","gx":400,"gy":340},
{"r":"medium","gx":318,"gy":78},{"r":"medium","gx":392,"gy":78},{"r":"medium","gx":400,"gy":189},{"r":"medium","gx":433,"gy":288},{"r":"medium","gx":408,"gy":342},{"r":"medium","gx":474,"gy":532},{"r":"medium","gx":539,"gy":658},{"r":"medium","gx":596,"gy":748},{"r":"medium","gx":610,"gy":811},{"r":"medium","gx":610,"gy":900},{"r":"medium","gx":585,"gy":1040},{"r":"medium","gx":680,"gy":1110},{"r":"medium","gx":720,"gy":1085},{"r":"medium","gx":790,"gy":1120},{"r":"medium","gx":780,"gy":1170},{"r":"medium","gx":700,"gy":1190},{"r":"medium","gx":620,"gy":1250},{"r":"medium","gx":600,"gy":1320},{"r":"medium","gx":640,"gy":1350},{"r":"medium","gx":720,"gy":1340},{"r":"medium","gx":770,"gy":1290},{"r":"medium","gx":790,"gy":1240},{"r":"medium","gx":830,"gy":1270},{"r":"medium","gx":900,"gy":1320},{"r":"medium","gx":960,"gy":1350},{"r":"medium","gx":955,"gy":1452},{"r":"medium","gx":420,"gy":1452},{"r":"medium","gx":380,"gy":1300},{"r":"medium","gx":350,"gy":1100},{"r":"medium","gx":355,"gy":860},{"r":"medium","gx":245,"gy":811},{"r":"medium","gx":278,"gy":748},{"r":"medium","gx":376,"gy":658},{"r":"medium","gx":384,"gy":604},{"r":"medium","gx":412,"gy":532},{"r":"medium","gx":408,"gy":351},{"r":"medium","gx":367,"gy":297},{"r":"medium","gx":318,"gy":189},
{"r":"pond1","gx":940,"gy":1170},{"r":"pond1","gx":985,"gy":1165},{"r":"pond1","gx":985,"gy":1205},{"r":"pond1","gx":945,"gy":1210},
{"r":"pond2","gx":800,"gy":730},{"r":"pond2","gx":830,"gy":740},{"r":"pond2","gx":865,"gy":800},{"r":"pond2","gx":850,"gy":825},{"r":"pond2","gx":815,"gy":790},
{"r":"land","gx":815,"gy":78},{"r":"land","gx":825,"gy":130},{"r":"land","gx":835,"gy":190},{"r":"land","gx":800,"gy":270},{"r":"land","gx":730,"gy":285},{"r":"land","gx":770,"gy":320},{"r":"land","gx":770,"gy":360},{"r":"land","gx":760,"gy":400},{"r":"land","gx":790,"gy":460},{"r":"land","gx":640,"gy":452},{"r":"land","gx":710,"gy":578},{"r":"land","gx":850,"gy":595},{"r":"land","gx":880,"gy":640},{"r":"land","gx":935,"gy":688},{"r":"land","gx":800,"gy":680},{"r":"land","gx":850,"gy":770},{"r":"land","gx":1030,"gy":795},{"r":"land","gx":1100,"gy":870},{"r":"land","gx":1180,"gy":940},{"r":"land","gx":1125,"gy":990},{"r":"land","gx":1150,"gy":1030},{"r":"land","gx":1200,"gy":1020},{"r":"land","gx":1260,"gy":1005},{"r":"land","gx":1340,"gy":1040},{"r":"land","gx":1395,"gy":1090},{"r":"land","gx":1400,"gy":1130},{"r":"land","gx":1380,"gy":1150},{"r":"land","gx":1340,"gy":1150},{"r":"land","gx":1400,"gy":1170},{"r":"land","gx":1350,"gy":1190},{"r":"land","gx":1230,"gy":1215},{"r":"land","gx":1150,"gy":1245},{"r":"land","gx":1090,"gy":1225},{"r":"land","gx":1040,"gy":1215},{"r":"land","gx":1090,"gy":1300},{"r":"land","gx":1150,"gy":1390},{"r":"land","gx":1175,"gy":1452},{"r":"land","gx":1448,"gy":1452},{"r":"land","gx":1448,"gy":78},
{"r":"groin1","gx":760,"gy":135},{"r":"groin1","gx":785,"gy":165},{"r":"groin1","gx":830,"gy":185},{"r":"groin1","gx":830,"gy":195},{"r":"groin1","gx":790,"gy":180},{"r":"groin1","gx":765,"gy":155},
{"r":"groin2","gx":640,"gy":272},{"r":"groin2","gx":660,"gy":275},{"r":"groin2","gx":690,"gy":330},{"r":"groin2","gx":760,"gy":358},{"r":"groin2","gx":760,"gy":368},{"r":"groin2","gx":680,"gy":350},{"r":"groin2","gx":655,"gy":310},
{"r":"olive","gx":850,"gy":78},{"r":"olive","gx":1448,"gy":78},{"r":"olive","gx":1448,"gy":800},{"r":"olive","gx":1390,"gy":880},{"r":"olive","gx":1260,"gy":840},{"r":"olive","gx":1160,"gy":740},{"r":"olive","gx":1140,"gy":650},{"r":"olive","gx":1100,"gy":570},{"r":"olive","gx":990,"gy":540},{"r":"olive","gx":890,"gy":470},{"r":"olive","gx":910,"gy":320},{"r":"olive","gx":890,"gy":230},
{"r":"mid","gx":860,"gy":78},{"r":"mid","gx":1448,"gy":78},{"r":"mid","gx":1448,"gy":700},{"r":"mid","gx":1400,"gy":780},{"r":"mid","gx":1300,"gy":740},{"r":"mid","gx":1220,"gy":660},{"r":"mid","gx":1190,"gy":570},{"r":"mid","gx":1000,"gy":525},{"r":"mid","gx":895,"gy":460},{"r":"mid","gx":920,"gy":320},{"r":"mid","gx":895,"gy":220},
{"r":"dark","gx":868,"gy":78},{"r":"dark","gx":1448,"gy":78},{"r":"dark","gx":1448,"gy":450},{"r":"dark","gx":1400,"gy":430},{"r":"dark","gx":1340,"gy":360},{"r":"dark","gx":1260,"gy":330},{"r":"dark","gx":1150,"gy":350},{"r":"dark","gx":1000,"gy":400},{"r":"dark","gx":930,"gy":330},{"r":"dark","gx":905,"gy":240},
{"r":"dark2","gx":1210,"gy":570},{"r":"dark2","gx":1250,"gy":560},{"r":"dark2","gx":1285,"gy":630},{"r":"dark2","gx":1240,"gy":650},
{"r":"town","gx":1300,"gy":1370},{"r":"town","gx":1380,"gy":1280},{"r":"town","gx":1448,"gy":1250},{"r":"town","gx":1448,"gy":1452},{"r":"town","gx":1320,"gy":1452}],
"walls":[{"w":"a","gx":415,"gy":360},{"w":"a","gx":480,"gy":450},{"w":"a","gx":560,"gy":580},{"w":"a","gx":660,"gy":740},{"w":"a","gx":750,"gy":880},{"w":"a","gx":770,"gy":910},{"w":"a","gx":915,"gy":1010},{"w":"b","gx":915,"gy":925},{"w":"b","gx":1010,"gy":990},{"w":"b","gx":1160,"gy":1100},{"w":"c","gx":1000,"gy":1180},{"w":"c","gx":1040,"gy":1215}],
"dots":[{"gx":160,"gy":380},{"gx":170,"gy":560},{"gx":150,"gy":660},{"gx":235,"gy":130},{"gx":270,"gy":110},{"gx":295,"gy":130},{"gx":265,"gy":170},{"gx":270,"gy":320},{"gx":300,"gy":330},{"gx":250,"gy":370},{"gx":320,"gy":380},{"gx":285,"gy":420},{"gx":340,"gy":430},{"gx":265,"gy":470},{"gx":310,"gy":510},{"gx":350,"gy":490},{"gx":240,"gy":560},{"gx":290,"gy":560},{"gx":330,"gy":545},{"gx":375,"gy":560},{"gx":265,"gy":620},{"gx":310,"gy":610},{"gx":355,"gy":630},{"gx":255,"gy":690},{"gx":300,"gy":680},{"gx":340,"gy":690},{"gx":240,"gy":760},{"gx":285,"gy":745},{"gx":330,"gy":740},{"gx":220,"gy":800},{"gx":170,"gy":900},{"gx":210,"gy":960},{"gx":260,"gy":1000},{"gx":190,"gy":1060},{"gx":250,"gy":1120},{"gx":300,"gy":1180},{"gx":200,"gy":1220},{"gx":270,"gy":1280},{"gx":320,"gy":1040},{"gx":300,"gy":900}],
"arrows":[{"id":"p50","sx":612,"sy":530,"tx":-76,"ty":-130,"bearing":311},{"id":"p35","sx":752,"sy":432,"tx":925,"ty":-10,"bearing":23},{"id":"p24","sx":885,"sy":640,"tx":1660,"ty":-118,"bearing":48.5},{"id":"p52","sx":735,"sy":748,"tx":-250,"ty":928,"bearing":260.6},{"id":"p13","sx":1095,"sy":902,"tx":1505,"ty":1015,"bearing":104},{"id":"p55","sx":1065,"sy":980,"tx":-344,"ty":1781,"bearing":242.8},{"id":"p2","sx":1242,"sy":1220,"tx":1005,"ty":1865,"bearing":202.1},{"id":"p8","sx":1212,"sy":1043,"tx":1850,"ty":1757,"bearing":135.4}]
},
"layer":[
{"data":{"name":"map"},"transform":[{"window":[{"op":"row_number","as":"i"}]}],"mark":{"type":"line","strokeWidth":0},"encoding":{"x":{"field":"gx","type":"quantitative","axis":null,"scale":{"domain":[113,1448],"range":[1066,1611],"nice":false,"zero":false}},"y":{"field":"gy","type":"quantitative","axis":null,"scale":{"domain":[78,1452],"range":[869,1377],"nice":false,"zero":false}},"order":{"field":"i"},"fill":{"field":"r","legend":null,"scale":{"domain":["deep","cyan","medium","pond1","pond2","land","groin1","groin2","olive","mid","dark","dark2","town"],"range":["#79c1f8","#8fe8fb","#80cdf8","#79c1f8","#80cdf8","#e1e28b","#e1e28b","#e1e28b","#b0ba70","#7f9462","#5e7a50","#5e7a50","#c4c97c"]}}}},
{"data":{"name":"dots"},"mark":{"type":"point","filled":true,"color":"#c9ae80","size":5,"opacity":0.9},"encoding":{"x":{"field":"gx","type":"quantitative","axis":null,"scale":{"domain":[113,1448],"range":[1066,1611],"nice":false,"zero":false}},"y":{"field":"gy","type":"quantitative","axis":null,"scale":{"domain":[78,1452],"range":[869,1377],"nice":false,"zero":false}}}},
{"data":{"name":"walls"},"mark":{"type":"line","color":"#e3e49c","strokeWidth":2.5},"encoding":{"x":{"field":"gx","type":"quantitative","axis":null,"scale":{"domain":[113,1448],"range":[1066,1611],"nice":false,"zero":false}},"y":{"field":"gy","type":"quantitative","axis":null,"sort":null,"scale":{"domain":[78,1452],"range":[869,1377],"nice":false,"zero":false}},"detail":{"field":"w"}}},
{"mark":{"type":"point","opacity":0},"encoding":{"x":{"datum":29,"type":"quantitative","scale":{"domain":[28.995,29.025],"range":[1066,1611],"nice":false,"zero":false},"axis":{"orient":"bottom","offset":-2131,"values":[28.995,29,29.005,29.01,29.015,29.02,29.025],"format":".6~g","title":null,"tickSize":4,"labelPadding":6,"labelFontSize":13.5,"labelColor":"#333","domainColor":"#777","tickColor":"#777","domainWidth":2,"tickWidth":1.5}},"y":{"datum":41,"type":"quantitative","scale":{"domain":[40.987,41.015],"range":[1377,869],"nice":false,"zero":false},"axis":{"orient":"left","offset":-1066,"values":[40.99,40.995,41,41.005,41.01,41.015],"format":".6~g","title":null,"tickSize":5,"labelPadding":3,"labelFontSize":13.5,"labelColor":"#333","domainColor":"#777","tickColor":"#777","domainWidth":2,"tickWidth":1.5}}}},
{"mark":{"type":"point","opacity":0},"encoding":{"x":{"datum":29,"type":"quantitative","scale":{"domain":[28.995,29.025],"range":[1066,1611],"nice":false,"zero":false},"axis":{"orient":"top","offset":-869,"values":[28.995,29,29.005,29.01,29.015,29.02,29.025],"labels":false,"title":null,"tickSize":4,"domainColor":"#777","tickColor":"#777","domainWidth":2,"tickWidth":1.5}},"y":{"datum":41,"type":"quantitative","scale":{"domain":[40.987,41.015],"range":[1377,869],"nice":false,"zero":false},"axis":{"orient":"right","offset":-870,"values":[40.99,40.995,41,41.005,41.01,41.015],"labels":false,"title":null,"tickSize":4,"domainColor":"#777","tickColor":"#777","domainWidth":2,"tickWidth":1.5}}}},

{"data":{"name":"p50"},"mark":{"type":"line","color":"#f40000","strokeWidth":3.8},"encoding":{"x":{"field":"t","type":"quantitative","scale":{"domain":[0,100],"range":[485,997.3]},"axis":{"orient":"bottom","offset":-2771.5,"values":[0,20,40,60,80,100],"title":"Time (min)"}},"y":{"field":"v","type":"quantitative","scale":{"domain":[0,8],"range":[736.5,328]},"axis":{"orient":"left","offset":-485,"values":[0,2,4,6,8],"title":"Current Velocity (m/s)"}}}},
{"mark":{"type":"point","opacity":0},"encoding":{"x":{"datum":10,"type":"quantitative","scale":{"domain":[0,100],"range":[485,997.3]},"axis":{"orient":"bottom","offset":-2771.5,"values":[10,30,50,70,90],"labels":false,"domain":false,"tickSize":8,"title":null}},"y":{"datum":1,"type":"quantitative","scale":{"domain":[0,8],"range":[736.5,328]},"axis":{"orient":"left","offset":-485,"values":[1,3,5,7],"labels":false,"domain":false,"tickSize":8,"title":null}}}},
{"data":{"name":"p35"},"mark":{"type":"line","color":"#f40000","strokeWidth":4.5},"encoding":{"x":{"field":"t","type":"quantitative","scale":{"domain":[0,100],"range":[1086.5,1598.8]},"axis":{"orient":"bottom","offset":-2766,"values":[0,20,40,60,80,100],"title":"Time (min)"}},"y":{"field":"v","type":"quantitative","scale":{"domain":[0,8],"range":[742,333.3]},"axis":{"orient":"left","offset":-1086.5,"values":[0,2,4,6,8],"title":"Current Velocity (m/s)"}}}},
{"mark":{"type":"point","opacity":0},"encoding":{"x":{"datum":10,"type":"quantitative","scale":{"domain":[0,100],"range":[1086.5,1598.8]},"axis":{"orient":"bottom","offset":-2766,"values":[10,30,50,70,90],"labels":false,"domain":false,"tickSize":8,"title":null}},"y":{"datum":1,"type":"quantitative","scale":{"domain":[0,8],"range":[742,333.3]},"axis":{"orient":"left","offset":-1086.5,"values":[1,3,5,7],"labels":false,"domain":false,"tickSize":8,"title":null}}}},
{"data":{"name":"p24"},"mark":{"type":"line","color":"#f40000","strokeWidth":4.5},"encoding":{"x":{"field":"t","type":"quantitative","scale":{"domain":[0,100],"range":[1698.6,2210]},"axis":{"orient":"bottom","offset":-2766,"values":[0,20,40,60,80,100],"title":"Time (min)"}},"y":{"field":"v","type":"quantitative","scale":{"domain":[0,8],"range":[742,333.3]},"axis":{"orient":"left","offset":-1698.6,"values":[0,2,4,6,8],"title":"Current Velocity (m/s)"}}}},
{"mark":{"type":"point","opacity":0},"encoding":{"x":{"datum":10,"type":"quantitative","scale":{"domain":[0,100],"range":[1698.6,2210]},"axis":{"orient":"bottom","offset":-2766,"values":[10,30,50,70,90],"labels":false,"domain":false,"tickSize":8,"title":null}},"y":{"datum":1,"type":"quantitative","scale":{"domain":[0,8],"range":[742,333.3]},"axis":{"orient":"left","offset":-1698.6,"values":[1,3,5,7],"labels":false,"domain":false,"tickSize":8,"title":null}}}},
{"data":{"name":"p52"},"mark":{"type":"line","color":"#f40000","strokeWidth":3.8},"encoding":{"x":{"field":"t","type":"quantitative","scale":{"domain":[0,100],"range":[490.6,1003.3]},"axis":{"orient":"bottom","offset":-2192.2,"values":[0,20,40,60,80,100],"title":"Time (min)"}},"y":{"field":"v","type":"quantitative","scale":{"domain":[0,8],"range":[1315.8,906.6]},"axis":{"orient":"left","offset":-490.6,"values":[0,2,4,6,8],"title":"Current Velocity (m/s)"}}}},
{"mark":{"type":"point","opacity":0},"encoding":{"x":{"datum":10,"type":"quantitative","scale":{"domain":[0,100],"range":[490.6,1003.3]},"axis":{"orient":"bottom","offset":-2192.2,"values":[10,30,50,70,90],"labels":false,"domain":false,"tickSize":8,"title":null}},"y":{"datum":1,"type":"quantitative","scale":{"domain":[0,8],"range":[1315.8,906.6]},"axis":{"orient":"left","offset":-490.6,"values":[1,3,5,7],"labels":false,"domain":false,"tickSize":8,"title":null}}}},
{"data":{"name":"p13"},"mark":{"type":"line","color":"#f40000","strokeWidth":3.8},"encoding":{"x":{"field":"t","type":"quantitative","scale":{"domain":[0,100],"range":[1713.5,2225.3]},"axis":{"orient":"bottom","offset":-2186.3,"values":[0,20,40,60,80,100],"title":"Time (min)"}},"y":{"field":"v","type":"quantitative","scale":{"domain":[0,8],"range":[1321.7,913.3]},"axis":{"orient":"left","offset":-1713.5,"values":[0,2,4,6,8],"title":"Current Velocity (m/s)"}}}},
{"mark":{"type":"point","opacity":0},"encoding":{"x":{"datum":10,"type":"quantitative","scale":{"domain":[0,100],"range":[1713.5,2225.3]},"axis":{"orient":"bottom","offset":-2186.3,"values":[10,30,50,70,90],"labels":false,"domain":false,"tickSize":8,"title":null}},"y":{"datum":1,"type":"quantitative","scale":{"domain":[0,8],"range":[1321.7,913.3]},"axis":{"orient":"left","offset":-1713.5,"values":[1,3,5,7],"labels":false,"domain":false,"tickSize":8,"title":null}}}},
{"data":{"name":"p55"},"mark":{"type":"line","color":"#f40000","strokeWidth":3.8},"encoding":{"x":{"field":"t","type":"quantitative","scale":{"domain":[0,100],"range":[492.2,1004.9]},"axis":{"orient":"bottom","offset":-1600.8,"values":[0,20,40,60,80,100],"title":"Time (min)"}},"y":{"field":"v","type":"quantitative","scale":{"domain":[0,8],"range":[1897,1488.1]},"axis":{"orient":"left","offset":-492.2,"values":[0,2,4,6,8],"title":"Current Velocity (m/s)"}}}},
{"mark":{"type":"point","opacity":0},"encoding":{"x":{"datum":10,"type":"quantitative","scale":{"domain":[0,100],"range":[492.2,1004.9]},"axis":{"orient":"bottom","offset":-1600.8,"values":[10,30,50,70,90],"labels":false,"domain":false,"tickSize":8,"title":null}},"y":{"datum":1,"type":"quantitative","scale":{"domain":[0,8],"range":[1897,1488.1]},"axis":{"orient":"left","offset":-492.2,"values":[1,3,5,7],"labels":false,"domain":false,"tickSize":8,"title":null}}}},
{"data":{"name":"p2"},"mark":{"type":"line","color":"#f40000","strokeWidth":4.2},"encoding":{"x":{"field":"t","type":"quantitative","scale":{"domain":[0,100],"range":[1113.5,1626]},"axis":{"orient":"bottom","offset":-1596.3,"values":[0,20,40,60,80,100],"title":"Time (min)"}},"y":{"field":"v","type":"quantitative","scale":{"domain":[0,8],"range":[1911.7,1502.9]},"axis":{"orient":"left","offset":-1113.5,"values":[0,2,4,6,8],"title":"Current Velocity (m/s)"}}}},
{"mark":{"type":"point","opacity":0},"encoding":{"x":{"datum":10,"type":"quantitative","scale":{"domain":[0,100],"range":[1113.5,1626]},"axis":{"orient":"bottom","offset":-1596.3,"values":[10,30,50,70,90],"labels":false,"domain":false,"tickSize":8,"title":null}},"y":{"datum":1,"type":"quantitative","scale":{"domain":[0,8],"range":[1911.7,1502.9]},"axis":{"orient":"left","offset":-1113.5,"values":[1,3,5,7],"labels":false,"domain":false,"tickSize":8,"title":null}}}},
{"data":{"name":"p8"},"mark":{"type":"line","color":"#f40000","strokeWidth":3.8},"encoding":{"x":{"field":"t","type":"quantitative","scale":{"domain":[0,100],"range":[1714.7,2227.3]},"axis":{"orient":"bottom","offset":-1595.2,"values":[0,20,40,60,80,100],"title":"Time (min)"}},"y":{"field":"v","type":"quantitative","scale":{"domain":[0,8],"range":[1902.8,1495]},"axis":{"orient":"left","offset":-1714.7,"values":[0,2,4,6,8],"title":"Current Velocity (m/s)"}}}},
{"mark":{"type":"point","opacity":0},"encoding":{"x":{"datum":10,"type":"quantitative","scale":{"domain":[0,100],"range":[1714.7,2227.3]},"axis":{"orient":"bottom","offset":-1595.2,"values":[10,30,50,70,90],"labels":false,"domain":false,"tickSize":8,"title":null}},"y":{"datum":1,"type":"quantitative","scale":{"domain":[0,8],"range":[1902.8,1495]},"axis":{"orient":"left","offset":-1714.7,"values":[1,3,5,7],"labels":false,"domain":false,"tickSize":8,"title":null}}}},

{"layer":[
{"data":{"name":"arrows"},"mark":{"type":"rule","color":"#c40018","strokeWidth":4.5},"encoding":{"x":{"field":"sx","type":"quantitative","axis":null,"scale":{"domain":[113,1448],"range":[1066,1611],"nice":false,"zero":false}},"y":{"field":"sy","type":"quantitative","axis":null,"scale":{"domain":[78,1452],"range":[869,1377],"nice":false,"zero":false}},"x2":{"field":"tx"},"y2":{"field":"ty"}}},
{"data":{"name":"arrows"},"mark":{"type":"point","shape":"triangle-up","filled":true,"color":"#c40018","size":260,"opacity":1},"encoding":{"x":{"field":"tx","type":"quantitative","axis":null},"y":{"field":"ty","type":"quantitative","axis":null},"angle":{"field":"bearing","type":"quantitative","scale":null}}},
{"data":{"name":"arrows"},"mark":{"type":"point","shape":"M0,-1L0.235,-0.324L0.951,-0.309L0.38,0.124L0.588,0.809L0,0.4L-0.588,0.809L-0.38,0.124L-0.951,-0.309L-0.235,-0.324Z","filled":true,"fill":"#f00018","stroke":"#444","strokeWidth":1,"size":520,"opacity":1},"encoding":{"x":{"field":"sx","type":"quantitative","axis":null},"y":{"field":"sy","type":"quantitative","axis":null}}},
{"data":{"name":"arrows"},"mark":{"type":"text","font":"Liberation Sans","fontWeight":"bold","fontSize":13,"color":"#3a4a48","dy":-20},"encoding":{"x":{"field":"sx","type":"quantitative","axis":null},"y":{"field":"sy","type":"quantitative","axis":null},"text":{"field":"id"}}}
]},

{"layer":[
{"mark":{"type":"rect","fill":"white","stroke":"#aaa","strokeWidth":3},"encoding":{"x":{"datum":613.7,"axis":null,"scale":{"domain":[0,2481],"range":[0,2481],"nice":false}},"x2":{"datum":808.8},"y":{"datum":267,"axis":null,"scale":{"domain":[0,3508],"range":[0,3508],"nice":false}},"y2":{"datum":316}}},
{"mark":{"type":"rect","fill":"white","stroke":"#aaa","strokeWidth":3},"encoding":{"x":{"datum":1224,"axis":null},"x2":{"datum":1400.8},"y":{"datum":271,"axis":null},"y2":{"datum":321}}},
{"mark":{"type":"rect","fill":"white","stroke":"#aaa","strokeWidth":3},"encoding":{"x":{"datum":1835.7,"axis":null},"x2":{"datum":2010},"y":{"datum":271,"axis":null},"y2":{"datum":321}}},
{"mark":{"type":"rect","fill":"white","stroke":"#aaa","strokeWidth":3},"encoding":{"x":{"datum":618.8,"axis":null},"x2":{"datum":813.9},"y":{"datum":844.8,"axis":null},"y2":{"datum":894.8}}},
{"mark":{"type":"rect","fill":"white","stroke":"#aaa","strokeWidth":3},"encoding":{"x":{"datum":1850.6,"axis":null},"x2":{"datum":2027},"y":{"datum":851.8,"axis":null},"y2":{"datum":901}}},
{"mark":{"type":"rect","fill":"white","stroke":"#aaa","strokeWidth":3},"encoding":{"x":{"datum":630.6,"axis":null},"x2":{"datum":804.9},"y":{"datum":1426.8,"axis":null},"y2":{"datum":1476.4}}},
{"mark":{"type":"rect","fill":"white","stroke":"#aaa","strokeWidth":3},"encoding":{"x":{"datum":1261.6,"axis":null},"x2":{"datum":1416.7},"y":{"datum":1441,"axis":null},"y2":{"datum":1491}}},
{"mark":{"type":"rect","fill":"white","stroke":"#aaa","strokeWidth":3},"encoding":{"x":{"datum":1862,"axis":null},"x2":{"datum":2017},"y":{"datum":1433,"axis":null},"y2":{"datum":1483.6}}},
{"mark":{"type":"text","font":"Liberation Serif","fontWeight":"bold","fontSize":37,"color":"#111","baseline":"alphabetic"},"encoding":{"x":{"datum":711,"axis":null},"y":{"datum":304,"axis":null},"text":{"value":"p50, 12.1 m"}}},
{"mark":{"type":"text","font":"Liberation Serif","fontWeight":"bold","fontSize":37,"color":"#111","baseline":"alphabetic"},"encoding":{"x":{"datum":1312,"axis":null},"y":{"datum":309,"axis":null},"text":{"value":"p35, 8.8 m"}}},
{"mark":{"type":"text","font":"Liberation Serif","fontWeight":"bold","fontSize":37,"color":"#111","baseline":"alphabetic"},"encoding":{"x":{"datum":1923,"axis":null},"y":{"datum":309,"axis":null},"text":{"value":"p24, 8.1 m"}}},
{"mark":{"type":"text","font":"Liberation Serif","fontWeight":"bold","fontSize":37,"color":"#111","baseline":"alphabetic"},"encoding":{"x":{"datum":716,"axis":null},"y":{"datum":883,"axis":null},"text":{"value":"p52, 11.6 m"}}},
{"mark":{"type":"text","font":"Liberation Serif","fontWeight":"bold","fontSize":37,"color":"#111","baseline":"alphabetic"},"encoding":{"x":{"datum":1939,"axis":null},"y":{"datum":889,"axis":null},"text":{"value":"p13, 7.2 m"}}},
{"mark":{"type":"text","font":"Liberation Serif","fontWeight":"bold","fontSize":37,"color":"#111","baseline":"alphabetic"},"encoding":{"x":{"datum":718,"axis":null},"y":{"datum":1464,"axis":null},"text":{"value":"p55, 5.3 m"}}},
{"mark":{"type":"text","font":"Liberation Serif","fontWeight":"bold","fontSize":37,"color":"#111","baseline":"alphabetic"},"encoding":{"x":{"datum":1339,"axis":null},"y":{"datum":1479,"axis":null},"text":{"value":"p2, 4.2 m"}}},
{"mark":{"type":"text","font":"Liberation Serif","fontWeight":"bold","fontSize":37,"color":"#111","baseline":"alphabetic"},"encoding":{"x":{"datum":1939,"axis":null},"y":{"datum":1471,"axis":null},"text":{"value":"p8, 4.5 m"}}},
{"mark":{"type":"text","font":"Liberation Serif","fontSize":50,"color":"#000","baseline":"alphabetic","align":"center"},"encoding":{"x":{"datum":1326,"axis":null},"y":{"datum":2164,"axis":null},"text":{"value":"Рисунок В.6 – Временная запись изменения текущей скорости в некоторых отобранных"}}},
{"mark":{"type":"text","font":"Liberation Serif","fontSize":50,"color":"#000","baseline":"alphabetic","align":"center"},"encoding":{"x":{"datum":1329,"axis":null},"y":{"datum":2222.6,"axis":null},"text":{"value":"числовых местоположениях меры"}}},
{"mark":{"type":"text","font":"Liberation Serif","fontSize":50,"color":"#000","baseline":"alphabetic","align":"left"},"encoding":{"x":{"datum":472,"axis":null},"y":{"datum":2331,"axis":null},"text":{"value":"Эти \u200aдва \u200aволнореза \u200aв \u200aрегионе \u200aуменьшают \u200aвоздействие \u200aволн \u200aцунами \u200aна \u200aпобережье \u200aи"}}},
{"mark":{"type":"text","font":"Liberation Serif","fontSize":50,"color":"#000","baseline":"alphabetic","align":"left"},"encoding":{"x":{"datum":358,"axis":null},"y":{"datum":2416.4,"axis":null},"text":{"value":"порт. \u00a0\u00a0\u00a0Однако \u00a0\u00a0\u00a0большие \u00a0\u00a0\u00a0и \u00a0\u00a0\u00a0сильные \u00a0\u00a0\u00a0\u00a0волны, \u00a0\u00a0\u00a0которые \u00a0\u00a0\u00a0получились \u00a0\u00a0\u00a0в \u00a0\u00a0\u00a0результате"}}},
{"mark":{"type":"text","font":"Liberation Serif","fontSize":50,"color":"#000","baseline":"alphabetic","align":"left"},"encoding":{"x":{"datum":358,"axis":null},"y":{"datum":2502.5,"axis":null},"text":{"value":"моделирования, \u2009возможно, \u2009повредят \u2009волнорезы \u200aи \u2009затронут \u2009их \u2009стабильность. \u2009Это \u200aможет"}}},
{"mark":{"type":"text","font":"Liberation Serif","fontSize":50,"color":"#000","baseline":"alphabetic","align":"left"},"encoding":{"x":{"datum":358,"axis":null},"y":{"datum":2589,"axis":null},"text":{"value":"привести к увеличению уровня затопления цунами."}}},
{"mark":{"type":"text","font":"Liberation Serif","fontSize":58,"color":"#000","baseline":"alphabetic","align":"center"},"encoding":{"x":{"datum":1358,"axis":null},"y":{"datum":3290,"axis":null},"text":{"value":"69"}}}
]}
]}
